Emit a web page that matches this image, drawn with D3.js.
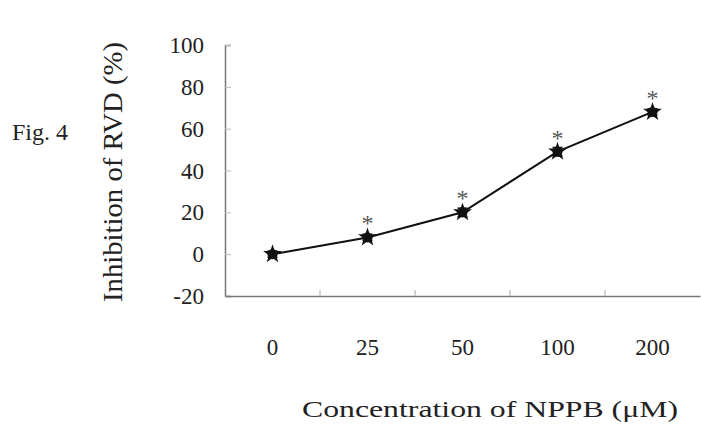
<!DOCTYPE html>
<html>
<head>
<meta charset="utf-8">
<script src="https://cdn.jsdelivr.net/npm/d3@7"></script>
<style>
  body { margin: 0; background: #fff; }
  svg text { font-family: "Liberation Serif", "Times New Roman", serif; fill: #222; }
</style>
</head>
<body>
<svg id="chart" width="701" height="425"></svg>
<script>
// data
var concentrations = ['0', '25', '50', '100', '200'];
var inhibition = [0, 8, 20, 49, 68];
var errors = [1.5, 1.5, 2, 2, 1.5];
var significant = [false, true, true, true, true];
var yTicks = [-20, 0, 20, 40, 60, 80, 100];

var svg = d3.select('#chart');

var x = d3.scaleBand()
    .domain(concentrations)
    .range([225, 700]);

var y = d3.scaleLinear()
    .domain([-20, 100])
    .range([296, 45]);

// y axis, ticks point inwards
var yAxis = svg.append('g')
    .attr('transform', 'translate(225,0)')
    .call(d3.axisRight(y).tickValues(yTicks).tickSize(6).tickFormat(''));
yAxis.select('.domain').attr('stroke', '#777').attr('stroke-width', 1.5);
yAxis.selectAll('.tick line').attr('stroke', '#bbb');

svg.append('g')
    .selectAll('text')
    .data(yTicks)
  .enter().append('text')
    .attr('x', 204)
    .attr('y', function(t) { return y(t) + 8; })
    .attr('text-anchor', 'end')
    .style('font-size', '23px')
    .text(function(t) { return t; });

// x axis, ticks between categories
var xAxis = svg.append('g')
    .attr('transform', 'translate(0,' + y(-20) + ')')
    .call(d3.axisTop(x).tickSize(0).tickFormat(''));
xAxis.select('.domain').attr('stroke', '#777').attr('stroke-width', 1.5);

svg.append('g')
    .selectAll('line')
    .data(concentrations.slice(1))
  .enter().append('line')
    .attr('x1', function(d) { return x(d); })
    .attr('x2', function(d) { return x(d); })
    .attr('y1', y(-20))
    .attr('y2', y(-20) - 6)
    .attr('stroke', '#aaa');

svg.append('g')
    .selectAll('text')
    .data(concentrations)
  .enter().append('text')
    .attr('x', function(d) { return x(d) + x.bandwidth() / 2; })
    .attr('y', 355)
    .attr('text-anchor', 'middle')
    .style('font-size', '23px')
    .text(function(d) { return d; });

var pts = concentrations.map(function(c, i) {
    return { c: c, v: inhibition[i], e: errors[i], sig: significant[i] };
});
var cx = function(d) { return x(d.c) + x.bandwidth() / 2; };

// line
svg.append('path')
    .datum(pts)
    .attr('fill', 'none')
    .attr('stroke', '#111')
    .attr('stroke-width', 2)
    .attr('d', d3.line().x(cx).y(function(d) { return y(d.v); }));

// error bars
var eb = svg.append('g').selectAll('g').data(pts).enter().append('g');
eb.append('line')
    .attr('x1', cx).attr('x2', cx)
    .attr('y1', function(d) { return y(d.v - d.e); })
    .attr('y2', function(d) { return y(d.v + d.e); })
    .attr('stroke', '#111').attr('stroke-width', 1.5);
[-1, 1].forEach(function(s) {
    eb.append('line')
        .attr('x1', function(d) { return cx(d) - 5; })
        .attr('x2', function(d) { return cx(d) + 5; })
        .attr('y1', function(d) { return y(d.v + s * d.e); })
        .attr('y2', function(d) { return y(d.v + s * d.e); })
        .attr('stroke', '#111').attr('stroke-width', 1.5);
});

// markers
var mk = svg.append('g')
    .selectAll('g')
    .data(pts)
  .enter().append('g')
    .attr('transform', function(d) { return 'translate(' + cx(d) + ',' + y(d.v) + ')'; });
mk.append('path')
    .attr('d', d3.symbol().type(d3.symbolStar).size(110))
    .attr('fill', '#111');
mk.append('circle')
    .attr('r', 5)
    .attr('fill', '#111');

// significance asterisks
svg.append('g')
    .selectAll('text')
    .data(pts.filter(function(d) { return d.sig; }))
  .enter().append('text')
    .attr('x', cx)
    .attr('y', function(d) { return y(d.v) - 6; })
    .attr('text-anchor', 'middle')
    .style('font-size', '24px')
    .style('fill', '#555')
    .text('*');

// titles
svg.append('text')
    .attr('transform', 'translate(122,172) rotate(-90)')
    .attr('text-anchor', 'middle')
    .attr('textLength', 260)
    .attr('lengthAdjust', 'spacingAndGlyphs')
    .style('font-size', '27px')
    .text('Inhibition of RVD (%)');

svg.append('text')
    .attr('x', 490)
    .attr('y', 417)
    .attr('text-anchor', 'middle')
    .attr('textLength', 376)
    .attr('lengthAdjust', 'spacingAndGlyphs')
    .style('font-size', '24px')
    .text('Concentration of NPPB (\u03bcM)');

svg.append('text')
    .attr('x', 12)
    .attr('y', 140)
    .style('font-size', '24px')
    .text('Fig. 4');
</script>
</body>
</html>
